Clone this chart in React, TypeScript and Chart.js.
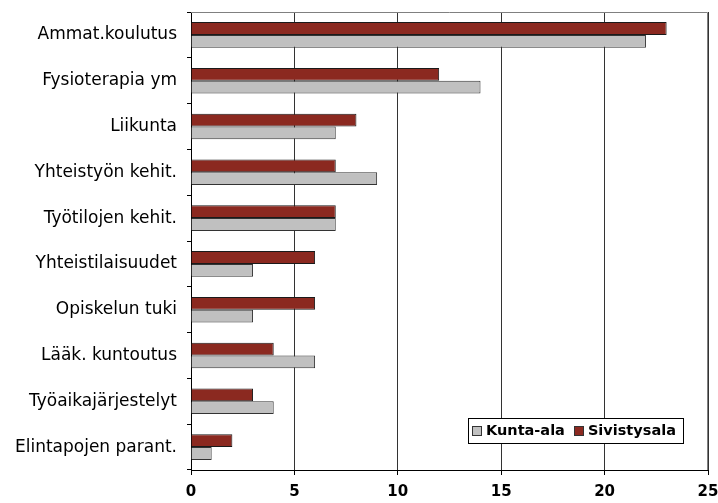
import React, { useEffect, useRef } from "react";
import { Chart, registerables } from "chart.js";

Chart.register(...registerables);

const categories = [
  "Ammat.koulutus",
  "Fysioterapia ym",
  "Liikunta",
  "Yhteistyön kehit.",
  "Työtilojen kehit.",
  "Yhteistilaisuudet",
  "Opiskelun tuki",
  "Lääk. kuntoutus",
  "Työaikajärjestelyt",
  "Elintapojen parant.",
];
const sivistysala = [23, 12, 8, 7, 7, 6, 6, 4, 3, 2];
const kuntaAla = [22, 14, 7, 9, 7, 3, 3, 6, 4, 1];
const xTicks = [0, 5, 10, 15, 20, 25];
const legendOrder = ["Kunta-ala", "Sivistysala"];

const FONT = "'DejaVu Sans', Verdana, sans-serif";

const zeroPad = (s: any) => {
  s.paddingTop = 0;
  s.paddingBottom = 0;
  s.paddingLeft = 0;
  s.paddingRight = 0;
};

const frameAndLegend = {
  id: "frameAndLegend",
  beforeDatasetsDraw(chart: any) {
    const { ctx, chartArea: a } = chart;
    ctx.save();
    ctx.strokeStyle = "#808080";
    ctx.lineWidth = 1;
    ctx.beginPath();
    ctx.moveTo(a.left, a.top + 0.5);
    ctx.lineTo(a.right - 0.5, a.top + 0.5);
    ctx.lineTo(a.right - 0.5, a.bottom);
    ctx.stroke();
    ctx.restore();
  },
  afterDraw(chart: any) {
    const { ctx, chartArea: a } = chart;
    const ds = chart.data.datasets;
    const items = legendOrder.map((l) => ds.find((d: any) => d.label === l));
    ctx.save();
    ctx.font = `bold 14.5px ${FONT}`;
    const sw = 10;
    const gap = 4;
    const itemGap = 9;
    const padL = 4;
    const padR = 7;
    const widths = items.map((d: any) => ctx.measureText(d.label).width);
    const total =
      padL + padR + items.reduce((s: number, _d: any, i: number) => s + sw + gap + widths[i], 0) + itemGap * (items.length - 1);
    const boxH = 25;
    const right = a.right - 25;
    const left = Math.round(right - total);
    const top = Math.round(a.bottom - 52);
    ctx.fillStyle = "#ffffff";
    ctx.fillRect(left, top, Math.round(total), boxH);
    ctx.strokeStyle = "#000000";
    ctx.lineWidth = 1;
    ctx.strokeRect(left + 0.5, top + 0.5, Math.round(total), boxH);
    let x = left + padL;
    const cy = top + boxH / 2 + 0.5;
    items.forEach((d: any, i: number) => {
      const sx = Math.round(x) + 0.5;
      const sy = Math.round(cy - sw / 2) + 0.5;
      ctx.fillStyle = d.backgroundColor;
      ctx.fillRect(sx, sy, sw - 1, sw - 1);
      ctx.strokeStyle = "#333";
      ctx.strokeRect(sx, sy, sw - 1, sw - 1);
      x += sw + gap;
      ctx.fillStyle = "#000";
      ctx.textBaseline = "middle";
      ctx.textAlign = "left";
      ctx.fillText(d.label, x, cy);
      x += widths[i] + itemGap;
    });
    ctx.restore();
  },
};

export default function App() {
  const ref = useRef<HTMLCanvasElement | null>(null);
  useEffect(() => {
    document.body.style.margin = "0";
    const chart = new Chart(ref.current!, {
      type: "bar",
      data: {
        labels: categories,
        datasets: [
          {
            label: "Sivistysala",
            data: sivistysala,
            backgroundColor: "#8B2920",
            borderColor: "#1a1a1a",
            borderWidth: 1,
            categoryPercentage: 0.56,
            barPercentage: 1.0,
          },
          {
            label: "Kunta-ala",
            data: kuntaAla,
            backgroundColor: "#C0C0C0",
            borderColor: "#333333",
            borderWidth: 1,
            categoryPercentage: 0.56,
            barPercentage: 1.0,
          },
        ],
      },
      options: {
        indexAxis: "y",
        animation: false,
        responsive: true,
        maintainAspectRatio: false,
        layout: { padding: { top: 12, right: 10, left: 0, bottom: 0 } },
        plugins: {
          legend: { display: false },
          tooltip: { enabled: false },
        },
        scales: {
          x: {
            min: 0,
            max: 25,
            afterBuildTicks: (s: any) => {
              s.ticks = xTicks.map((v) => ({ value: v }));
            },
            afterFit: (s: any) => {
              s.height = 33;
              zeroPad(s);
            },
            grid: {
              color: "#333333",
              lineWidth: 1,
              drawTicks: true,
              tickLength: 5,
              tickColor: "#000",
            },
            border: { color: "#000", width: 1 },
            ticks: {
              color: "#000",
              padding: 8,
              font: { family: FONT, size: 15, weight: "bold" },
              maxRotation: 0,
            },
          },
          y: {
            afterFit: (s: any) => {
              s.width = 191;
              zeroPad(s);
            },
            grid: {
              drawOnChartArea: false,
              drawTicks: true,
              tickLength: 4,
              tickColor: "#000",
              offset: true,
            },
            border: { color: "#000", width: 1 },
            ticks: {
              color: "#000",
              padding: 10,
              font: { family: FONT, size: 17 },
            },
          },
        },
      },
      plugins: [frameAndLegend],
    } as any);
    return () => chart.destroy();
  }, []);
  return (
    <div style={{ position: "fixed", left: 0, top: 0, width: 718, height: 503 }}>
      <canvas ref={ref} />
    </div>
  );
}
